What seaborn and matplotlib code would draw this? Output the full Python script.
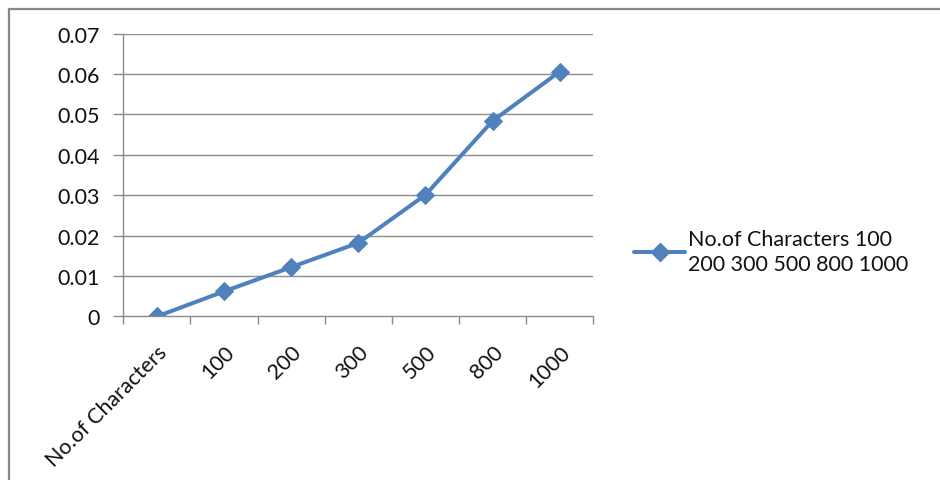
import matplotlib
matplotlib.use("Agg")
import matplotlib.pyplot as plt
from matplotlib.lines import Line2D
import seaborn as sns
import pandas as pd

# Series data
categories = ["No.of Characters", "100", "200", "300", "500", "800", "1000"]
values = [0.0, 0.0062, 0.0122, 0.0182, 0.0301, 0.0484, 0.0606]
y_ticks = [0, 0.01, 0.02, 0.03, 0.04, 0.05, 0.06, 0.07]
y_tick_labels = ["0", "0.01", "0.02", "0.03", "0.04", "0.05", "0.06", "0.07"]
series_label = "No.of Characters 100\n200 300 500 800 1000"

df = pd.DataFrame({"category": categories, "time": values})

sns.set_theme(style="white")
plt.rcParams["font.family"] = ["Lato", "DejaVu Sans"]

line_color = "#4F81BD"
grid_color = "#8C8C8C"
text_color = "#111111"
fs = 15.5

fig = plt.figure(figsize=(9.4, 4.81), dpi=100)
ax = fig.add_axes([0.1312, 0.340, 0.500, 0.588])

sns.lineplot(data=df, x="category", y="time", sort=False, ax=ax,
             color=line_color, linewidth=2.9, marker="D", markersize=9.5,
             markeredgecolor=line_color, label=series_label, legend=False)

n = len(categories)
ax.set_xlim(-0.5, n - 0.5)
ax.set_ylim(0, 0.07)
ax.set_yticks(y_ticks)
ax.set_yticklabels(y_tick_labels, fontsize=fs, color=text_color)
ax.set_xticks(range(n))
ax.set_xticklabels(categories, rotation=45, ha="right", va="top",
                   rotation_mode="anchor", fontsize=fs, color=text_color)
ax.set_xlabel("")
ax.set_ylabel("")

# Horizontal gridlines
for y in y_ticks[1:]:
    ax.axhline(y, color=grid_color, linewidth=1.0, zorder=0)

# Axis spines and tick marks
for side in ["top", "right"]:
    ax.spines[side].set_visible(False)
for side in ["left", "bottom"]:
    ax.spines[side].set_color(grid_color)
    ax.spines[side].set_linewidth(1.0)

ax.tick_params(axis="y", which="major", left=True, length=7, width=1.0,
               color=grid_color, pad=10)
ax.tick_params(axis="x", which="major", bottom=False, pad=12)
# tick marks on category boundaries
ax.set_xticks([i - 0.5 for i in range(n + 1)], minor=True)
ax.tick_params(axis="x", which="minor", bottom=True, length=6, width=1.0,
               color=grid_color)

# Legend on the right
handle = Line2D([], [], color=line_color, linewidth=2.9, marker="D",
                markersize=9.5, markeredgecolor=line_color)
leg = fig.legend([handle], [series_label], loc="upper left",
                 bbox_to_anchor=(0.665, 0.540), frameon=False, fontsize=fs,
                 handlelength=2.4, handletextpad=0.1, borderaxespad=0)
for t in leg.get_texts():
    t.set_linespacing(1.35)
    t.set_color(text_color)

# Outer chart border (top and left)
fig.add_artist(Line2D([9 / 940, 9 / 940], [0, 1 - 10 / 481],
                      transform=fig.transFigure, color="#878787", linewidth=1.6))
fig.add_artist(Line2D([9 / 940, 1], [1 - 10 / 481, 1 - 10 / 481],
                      transform=fig.transFigure, color="#878787", linewidth=1.6))

fig.savefig("out.png", dpi=100, facecolor="white")
